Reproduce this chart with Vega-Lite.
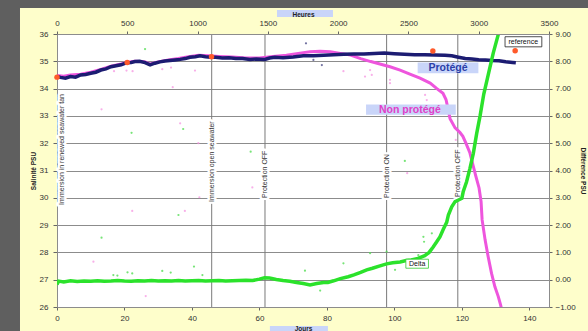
{
  "$schema": "https://vega.github.io/schema/vega-lite/v6.json",
  "width": 492,
  "height": 273,
  "autosize": "none",
  "padding": {"left": 57, "top": 34, "right": 39, "bottom": 24},
  "background": "#fefecb",
  "config": {
    "view": {"fill": "white", "stroke": "#8c8c8c", "strokeWidth": 1},
    "font": "Liberation Sans",
    "axis": {"labelFont": "Liberation Sans", "titleFont": "Liberation Sans", "labelColor": "#333333", "titleColor": "#222222", "domainColor": "#8c8c8c", "tickColor": "#666666", "labelFontSize": 8, "titleFontSize": 6.5, "titleFontWeight": "bold", "labelOverlap": false, "labelFlush": false, "tickCount": 20}
  },
  "datasets": {
    "prot": [
      {"day":0,"sal":34.45},{"day":1,"sal":34.41},{"day":2.5,"sal":34.38},{"day":4,"sal":34.44},{"day":5.5,"sal":34.42},{"day":7,"sal":34.5},{"day":8.5,"sal":34.52},{"day":10,"sal":34.56},{"day":11.5,"sal":34.6},{"day":13,"sal":34.68},{"day":14.5,"sal":34.72},{"day":16,"sal":34.8},{"day":17.5,"sal":34.84},{"day":19,"sal":34.87},{"day":20.7,"sal":34.95},{"day":22,"sal":34.96},{"day":23.1,"sal":34.99},{"day":24.5,"sal":35.0},{"day":26.1,"sal":34.95},{"day":27.6,"sal":34.87},{"day":29,"sal":34.93},{"day":30.5,"sal":34.98},{"day":32,"sal":35.01},{"day":33.5,"sal":35.03},{"day":35,"sal":35.05},{"day":36.5,"sal":35.07},{"day":38,"sal":35.1},{"day":39.4,"sal":35.15},{"day":41,"sal":35.17},{"day":42.4,"sal":35.2},{"day":44,"sal":35.17},{"day":45.6,"sal":35.15},{"day":47,"sal":35.15},{"day":49,"sal":35.12},{"day":51,"sal":35.13},{"day":53,"sal":35.1},{"day":55,"sal":35.1},{"day":57.2,"sal":35.07},{"day":59,"sal":35.08},{"day":61.6,"sal":35.07},{"day":63,"sal":35.12},{"day":64.6,"sal":35.15},{"day":67,"sal":35.13},{"day":70,"sal":35.16},{"day":73,"sal":35.2},{"day":76,"sal":35.2},{"day":79,"sal":35.22},{"day":82,"sal":35.24},{"day":85,"sal":35.26},{"day":88,"sal":35.27},{"day":91,"sal":35.27},{"day":94,"sal":35.29},{"day":97,"sal":35.3},{"day":100,"sal":35.28},{"day":103,"sal":35.26},{"day":106,"sal":35.24},{"day":109,"sal":35.24},{"day":112,"sal":35.23},{"day":115,"sal":35.22},{"day":117,"sal":35.2},{"day":119,"sal":35.15},{"day":121,"sal":35.1},{"day":123,"sal":35.08},{"day":125,"sal":35.06},{"day":127,"sal":35.05},{"day":129,"sal":35.03},{"day":131,"sal":35.02},{"day":133,"sal":34.98},{"day":135,"sal":34.96},{"day":136,"sal":34.95}
    ],
    "nonprot": [
      {"day":0,"sal":34.48},{"day":2,"sal":34.45},{"day":4,"sal":34.5},{"day":7,"sal":34.53},{"day":10,"sal":34.6},{"day":13,"sal":34.7},{"day":16,"sal":34.82},{"day":19,"sal":34.9},{"day":21,"sal":34.97},{"day":23,"sal":35.0},{"day":26,"sal":34.98},{"day":27.6,"sal":34.9},{"day":30,"sal":34.98},{"day":33,"sal":35.05},{"day":36,"sal":35.1},{"day":39,"sal":35.17},{"day":42,"sal":35.22},{"day":45,"sal":35.2},{"day":48,"sal":35.18},{"day":52,"sal":35.16},{"day":56,"sal":35.12},{"day":60,"sal":35.12},{"day":64,"sal":35.18},{"day":68,"sal":35.22},{"day":72,"sal":35.3},{"day":75,"sal":35.35},{"day":78,"sal":35.37},{"day":81,"sal":35.35},{"day":84,"sal":35.29},{"day":87,"sal":35.23},{"day":90,"sal":35.1},{"day":93,"sal":34.99},{"day":95.7,"sal":34.9},{"day":98.7,"sal":34.8},{"day":101.7,"sal":34.68},{"day":104.6,"sal":34.53},{"day":107.6,"sal":34.38},{"day":110.6,"sal":34.2},{"day":112.6,"sal":34.0},{"day":114.4,"sal":33.83},{"day":115.3,"sal":33.6},{"day":116,"sal":33.2},{"day":116.5,"sal":32.9},{"day":118,"sal":32.56},{"day":119.4,"sal":32.4},{"day":120.3,"sal":32.25},{"day":121.2,"sal":32.0},{"day":122.4,"sal":31.64},{"day":123.3,"sal":31.2},{"day":124.2,"sal":30.77},{"day":125.1,"sal":30.36},{"day":125.7,"sal":29.86},{"day":126,"sal":29.2},{"day":126.9,"sal":28.45},{"day":127.8,"sal":27.84},{"day":128.8,"sal":27.23},{"day":129.8,"sal":26.74},{"day":130.8,"sal":26.38},{"day":131.5,"sal":26.07},{"day":132,"sal":25.8}
    ],
    "delta": [
      {"day":0,"diff":-0.18},{"day":0.5,"diff":-0.05},{"day":2,"diff":-0.08},{"day":4,"diff":-0.04},{"day":6,"diff":-0.07},{"day":8,"diff":-0.05},{"day":10,"diff":-0.06},{"day":12,"diff":-0.04},{"day":14,"diff":-0.06},{"day":16,"diff":-0.05},{"day":18,"diff":-0.03},{"day":20,"diff":-0.05},{"day":22,"diff":-0.06},{"day":24,"diff":-0.04},{"day":26,"diff":-0.05},{"day":28,"diff":-0.03},{"day":30,"diff":-0.05},{"day":32,"diff":-0.04},{"day":34,"diff":-0.05},{"day":36,"diff":-0.03},{"day":38,"diff":-0.05},{"day":40,"diff":-0.04},{"day":42,"diff":-0.03},{"day":44,"diff":-0.05},{"day":46,"diff":-0.04},{"day":48,"diff":-0.03},{"day":50,"diff":-0.05},{"day":52,"diff":-0.04},{"day":54,"diff":-0.03},{"day":56,"diff":-0.02},{"day":58,"diff":-0.03},{"day":60,"diff":0.02},{"day":61.5,"diff":0.07},{"day":63,"diff":0.06},{"day":65,"diff":0.01},{"day":67,"diff":-0.03},{"day":69,"diff":-0.06},{"day":71,"diff":-0.1},{"day":73,"diff":-0.14},{"day":75,"diff":-0.19},{"day":77,"diff":-0.14},{"day":79,"diff":-0.1},{"day":80.3,"diff":-0.1},{"day":82,"diff":-0.04},{"day":84,"diff":0.04},{"day":86.3,"diff":0.11},{"day":88,"diff":0.18},{"day":90,"diff":0.27},{"day":91.8,"diff":0.36},{"day":93.5,"diff":0.42},{"day":95.5,"diff":0.5},{"day":97.7,"diff":0.58},{"day":99.5,"diff":0.62},{"day":101.7,"diff":0.65},{"day":103.5,"diff":0.7},{"day":105,"diff":0.72},{"day":107,"diff":0.78},{"day":109,"diff":0.88},{"day":110.3,"diff":1.0},{"day":111.5,"diff":1.2},{"day":112.5,"diff":1.38},{"day":113.5,"diff":1.57},{"day":114.5,"diff":1.85},{"day":115.5,"diff":2.1},{"day":116,"diff":2.37},{"day":117,"diff":2.67},{"day":118,"diff":2.86},{"day":119,"diff":2.92},{"day":120,"diff":2.98},{"day":120.4,"diff":3.22},{"day":121.4,"diff":3.59},{"day":122.4,"diff":4.08},{"day":123.4,"diff":4.63},{"day":124.4,"diff":5.36},{"day":125.4,"diff":6.0},{"day":126.5,"diff":6.8},{"day":128,"diff":7.6},{"day":129.3,"diff":8.3},{"day":130.5,"diff":8.85},{"day":131.5,"diff":9.3}
    ],
    "outliers": [
      {"series":"Non protégé","day":16.9,"sal":34.64},{"series":"Non protégé","day":20.6,"sal":34.66},{"series":"Non protégé","day":22.4,"sal":34.64},{"series":"Non protégé","day":31.2,"sal":34.71},{"series":"Non protégé","day":33.8,"sal":34.77},{"series":"Non protégé","day":40.9,"sal":34.66},{"series":"Non protégé","day":34.3,"sal":34.05},{"series":"Non protégé","day":13.2,"sal":33.24},{"series":"Non protégé","day":36.5,"sal":32.73},{"series":"Non protégé","day":41.9,"sal":32.0},{"series":"Non protégé","day":42.2,"sal":30.02},{"series":"Non protégé","day":57.9,"sal":30.38},{"series":"Non protégé","day":22.3,"sal":29.52},{"series":"Non protégé","day":37.9,"sal":29.52},{"series":"Non protégé","day":10.8,"sal":27.66},{"series":"Non protégé","day":26.3,"sal":26.4},{"series":"Non protégé","day":103.8,"sal":30.9},{"series":"Non protégé","day":118.2,"sal":32.12},{"series":"Non protégé","day":84.9,"sal":34.64},{"series":"Non protégé","day":92.8,"sal":34.68},{"series":"Non protégé","day":91.3,"sal":34.44},{"series":"Non protégé","day":93.3,"sal":34.5},{"series":"Non protégé","day":98.7,"sal":34.32},{"series":"Non protégé","day":98.7,"sal":34.2},{"series":"Non protégé","day":109.1,"sal":33.77},{"series":"Non protégé","day":109.6,"sal":33.58},
      {"series":"Protégé","day":73.8,"sal":35.66},{"series":"Protégé","day":78.5,"sal":34.86},{"series":"Protégé","day":76,"sal":35.05}
    ],
    "deltaOutliers": [
      {"day":26.1,"diff":8.45},{"day":22.1,"diff":5.38},{"day":37.4,"diff":5.52},{"day":57.4,"diff":4.69},{"day":36.0,"diff":2.37},{"day":13.2,"diff":1.54},{"day":16.7,"diff":0.17},{"day":17.9,"diff":0.15},{"day":20.9,"diff":0.27},{"day":22.3,"diff":0.23},{"day":31.2,"diff":0.32},{"day":33.7,"diff":0.26},{"day":40.6,"diff":0.48},{"day":43.1,"diff":0.17},{"day":103.1,"diff":4.35},{"day":73.5,"diff":0.33},{"day":78,"diff":-0.4},{"day":84.9,"diff":0.6},{"day":92.8,"diff":0.97},{"day":97.7,"diff":1.03},{"day":100.2,"diff":0.36},{"day":107.1,"diff":0.9},{"day":108.6,"diff":1.57},{"day":108.8,"diff":1.39},{"day":111.1,"diff":1.7}
    ],
    "reference": [
      {"day":0,"sal":34.42},{"day":20.8,"sal":34.96},{"day":45.8,"sal":35.17},{"day":111.4,"sal":35.38},{"day":135.8,"sal":35.39}
    ],
    "events": [
      {"day":45.85},{"day":61.65},{"day":97.7},{"day":118.8}
    ],
    "eventLabels": [
      {"label":"Immersion in renewed seawater tan","day":1.6,"sal":29.74},
      {"label":"Immersion  open seawater","day":45.85,"sal":29.85},
      {"label":"Protection OFF","day":61.65,"sal":29.99},
      {"label":"Protection ON","day":97.7,"sal":29.99},
      {"label":"Protection OFF","day":118.8,"sal":30.03}
    ],
    "hours": [{"h":0},{"h":3500}]
  },
  "layer": [
    {
      "layer": [
        {
          "data": {"name": "events"},
          "mark": {"type": "rule", "color": "#7a7a7a", "strokeWidth": 1},
          "encoding": {
            "x": {"field": "day", "type": "quantitative", "scale": {"domain": [0, 145.83], "nice": false, "zero": false},
              "axis": {"orient": "bottom", "values": [0,20,40,60,80,100,120,140], "tickCount": 20, "format": "d", "grid": false, "tickSize": 3, "labelPadding": 4, "title": "Jours", "titlePadding": 3, "zindex": 1}},
            "y": {"datum": 26, "type": "quantitative", "scale": {"domain": [26, 36], "nice": false, "zero": false},
              "axis": {"orient": "left", "values": [26,27,28,29,30,31,32,33,34,35,36], "tickCount": 20, "format": "d", "grid": true, "gridColor": "#8c8c8c", "gridWidth": 1, "tickSize": 4, "labelPadding": 5, "title": "Salinité PSU", "titlePadding": 3}},
            "y2": {"datum": 36}
          }
        },
        {
          "data": {"values": [{}]},
          "mark": {"type": "rect", "color": "#5f5f5f"},
          "encoding": {"x": {"datum": -40}, "x2": {"datum": -10.97}, "y": {"datum": 40}, "y2": {"datum": 20}}
        },
        {
          "data": {"values": [{}]},
          "mark": {"type": "rect", "color": "#5f5f5f"},
          "encoding": {"x": {"datum": -40}, "x2": {"datum": 180}, "y": {"datum": 36.95}, "y2": {"datum": 40}}
        },
        {
          "data": {"values": [{}]},
          "mark": {"type": "rect", "color": "#c9d5f9"},
          "encoding": {"x": {"datum": 65.2}, "x2": {"datum": 81.8}, "y": {"datum": 36.88}, "y2": {"datum": 36.62}}
        },
        {
          "data": {"values": [{}]},
          "mark": {"type": "rect", "color": "#c9d5f9"},
          "encoding": {"x": {"datum": 63.1}, "x2": {"datum": 80.3}, "y": {"datum": 25.3}, "y2": {"datum": 24.5}}
        },
        {
          "data": {"name": "eventLabels"},
          "mark": {"type": "text", "angle": 270, "align": "left", "baseline": "middle", "fontSize": 7, "fill": "white", "stroke": "white", "strokeWidth": 5, "strokeJoin": "round"},
          "encoding": {"x": {"field": "day", "type": "quantitative"}, "y": {"field": "sal", "type": "quantitative"}, "text": {"field": "label"}}
        },
        {
          "data": {"name": "eventLabels"},
          "mark": {"type": "text", "angle": 270, "align": "left", "baseline": "middle", "fontSize": 7, "color": "#333333"},
          "encoding": {"x": {"field": "day", "type": "quantitative"}, "y": {"field": "sal", "type": "quantitative"}, "text": {"field": "label"}}
        },
        {
          "data": {"name": "outliers"},
          "mark": {"type": "circle", "size": 5, "opacity": 0.7},
          "encoding": {
            "x": {"field": "day", "type": "quantitative"},
            "y": {"field": "sal", "type": "quantitative"},
            "color": {"field": "series", "type": "nominal", "scale": {"domain": ["Protégé", "Non protégé"], "range": ["#333377", "#f58ee0"]}, "legend": null}
          }
        },
        {
          "data": {"name": "nonprot"},
          "mark": {"type": "line", "color": "#ee55dd", "strokeWidth": 3, "clip": true},
          "encoding": {"x": {"field": "day", "type": "quantitative"}, "y": {"field": "sal", "type": "quantitative"}}
        },
        {
          "data": {"name": "prot"},
          "mark": {"type": "line", "color": "#1c1c72", "strokeWidth": 3.5, "clip": true},
          "encoding": {"x": {"field": "day", "type": "quantitative"}, "y": {"field": "sal", "type": "quantitative"}}
        },
        {
          "data": {"name": "reference"},
          "mark": {"type": "circle", "size": 30, "color": "#ff5a2a", "opacity": 1},
          "encoding": {"x": {"field": "day", "type": "quantitative"}, "y": {"field": "sal", "type": "quantitative"}}
        },
        {
          "data": {"values": [{}]},
          "mark": {"type": "rect", "color": "#c9d5f9"},
          "encoding": {"x": {"datum": 106.9}, "x2": {"datum": 124.9}, "y": {"datum": 34.96}, "y2": {"datum": 34.56}}
        },
        {
          "data": {"values": [{}]},
          "mark": {"type": "text", "text": "Protégé", "fontSize": 10.5, "fontWeight": "bold", "color": "#2b3fa8", "align": "center", "baseline": "middle"},
          "encoding": {"x": {"datum": 115.9}, "y": {"datum": 34.76}}
        },
        {
          "data": {"values": [{}]},
          "mark": {"type": "rect", "color": "#c9d5f9"},
          "encoding": {"x": {"datum": 91.6}, "x2": {"datum": 118.2}, "y": {"datum": 33.42}, "y2": {"datum": 33.04}}
        },
        {
          "data": {"values": [{}]},
          "mark": {"type": "text", "text": "Non protégé", "fontSize": 10.5, "fontWeight": "bold", "color": "#e040c8", "align": "center", "baseline": "middle"},
          "encoding": {"x": {"datum": 104.6}, "y": {"datum": 33.23}}
        },
        {
          "data": {"values": [{}]},
          "mark": {"type": "rect", "fill": "white", "stroke": "#222222", "strokeWidth": 0.8},
          "encoding": {"x": {"datum": 132.8}, "x2": {"datum": 143.7}, "y": {"datum": 35.9}, "y2": {"datum": 35.53}}
        },
        {
          "data": {"values": [{}]},
          "mark": {"type": "text", "text": "reference", "fontSize": 7, "color": "#111111", "align": "center", "baseline": "middle"},
          "encoding": {"x": {"datum": 138.2}, "y": {"datum": 35.71}}
        }
      ]
    },
    {
      "layer": [
        {
          "data": {"name": "deltaOutliers"},
          "mark": {"type": "circle", "size": 5, "color": "#55dd55", "opacity": 0.8},
          "encoding": {
            "x": {"field": "day", "type": "quantitative", "scale": {"domain": [0, 145.83], "nice": false, "zero": false}, "axis": null},
            "y": {"field": "diff", "type": "quantitative", "scale": {"domain": [-1, 9], "nice": false, "zero": false},
              "axis": {"orient": "right", "values": [-1,0,1,2,3,4,5,6,7,8,9], "tickCount": 20, "format": ".2f", "grid": false, "tickSize": 3, "labelPadding": 3, "title": "Différence PSU", "titlePadding": 4}}
          }
        },
        {
          "data": {"name": "delta"},
          "mark": {"type": "line", "color": "#2be22b", "strokeWidth": 3.5, "clip": true},
          "encoding": {"x": {"field": "day", "type": "quantitative"}, "y": {"field": "diff", "type": "quantitative"}}
        },
        {
          "data": {"values": [{}]},
          "mark": {"type": "rect", "fill": "white", "stroke": "#33cc33", "strokeWidth": 0.8},
          "encoding": {"x": {"datum": 103.4}, "x2": {"datum": 110.1}, "y": {"datum": 0.75}, "y2": {"datum": 0.42}}
        },
        {
          "data": {"values": [{}]},
          "mark": {"type": "text", "text": "Delta", "fontSize": 7, "color": "#111111", "align": "center", "baseline": "middle"},
          "encoding": {"x": {"datum": 106.75}, "y": {"datum": 0.585}}
        }
      ]
    },
    {
      "data": {"name": "hours"},
      "mark": {"type": "point", "opacity": 0},
      "encoding": {
        "x": {"field": "h", "type": "quantitative", "scale": {"domain": [0, 3500], "nice": false, "zero": false},
          "axis": {"orient": "top", "values": [0,500,1000,1500,2000,2500,3000,3500], "tickCount": 20, "format": "d", "grid": false, "tickSize": 3, "labelPadding": 4, "title": "Heures", "titlePadding": 2, "zindex": 1}}
      }
    }
  ],
  "resolve": {"scale": {"x": "independent", "y": "independent"}}
}
